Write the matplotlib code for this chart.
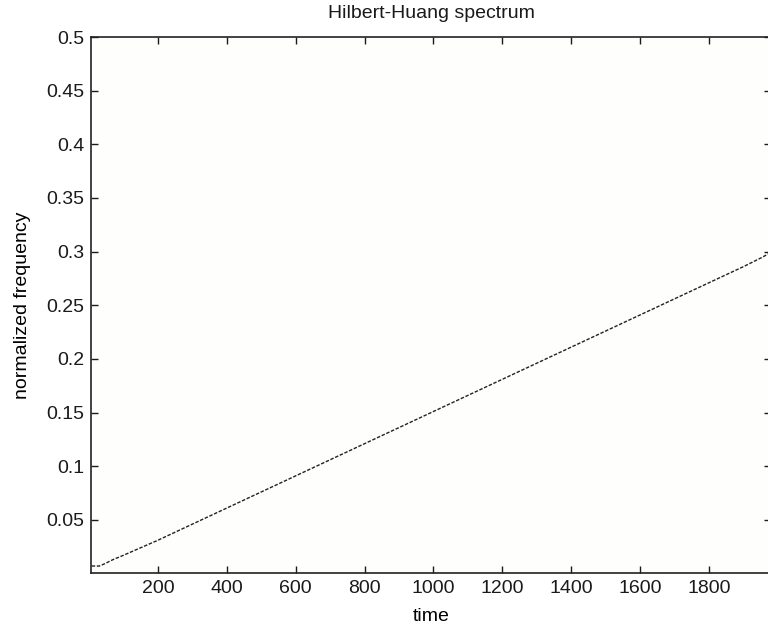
import matplotlib.pyplot as plt

# instantaneous frequency ridge
t = [8, 30, 45, 70, 100, 150, 200, 300, 400, 500, 600, 700, 800, 900, 1000,
     1100, 1200, 1300, 1400, 1500, 1600, 1700, 1800, 1900, 1950, 1985]
f = [0.007, 0.007, 0.009, 0.013, 0.017, 0.024, 0.031, 0.046, 0.061, 0.076,
     0.091, 0.106, 0.121, 0.136, 0.151, 0.166, 0.181, 0.196, 0.211, 0.226,
     0.241, 0.256, 0.271, 0.286, 0.294, 0.300]

xticks = [200, 400, 600, 800, 1000, 1200, 1400, 1600, 1800]
yticks = [0.05, 0.1, 0.15, 0.2, 0.25, 0.3, 0.35, 0.4, 0.45, 0.5]
ytick_labels = ['0.05', '0.1', '0.15', '0.2', '0.25', '0.3', '0.35', '0.4', '0.45', '0.5']

plt.rcParams['font.family'] = ['Liberation Sans', 'DejaVu Sans']
plt.rcParams['font.size'] = 14
plt.rcParams['text.color'] = '#1a1a1a'

fig = plt.figure(figsize=(7.68, 6.33), dpi=100)
# right spine sits just past the image edge, like the cropped original
ax = fig.add_axes([91/768, 1 - 573/633, (771-91)/768, (573-37)/633])
ax.set_facecolor('#fefefc')

ax.plot(t, f, color='#222222', lw=1.0, ls=(0, (2.5, 1.2)))

ax.set_xlim(6, 1980)
ax.set_ylim(0.0005, 0.5)
ax.set_xticks(xticks)
ax.set_xticklabels([str(v) for v in xticks])
ax.set_yticks(yticks)
ax.set_yticklabels(ytick_labels)
ax.tick_params(direction='in', length=5, width=1, top=True, right=True,
               labelsize=14, colors='#1a1a1a', pad=5)
for s in ax.spines.values():
    s.set_linewidth(1.2)
    s.set_color('#222222')

ax.set_title('Hilbert-Huang spectrum', fontsize=14, pad=14)
ax.set_xlabel('time', fontsize=14, labelpad=8)
ax.set_ylabel('normalized frequency', fontsize=14, labelpad=11)

fig.savefig('out.png', dpi=100)
